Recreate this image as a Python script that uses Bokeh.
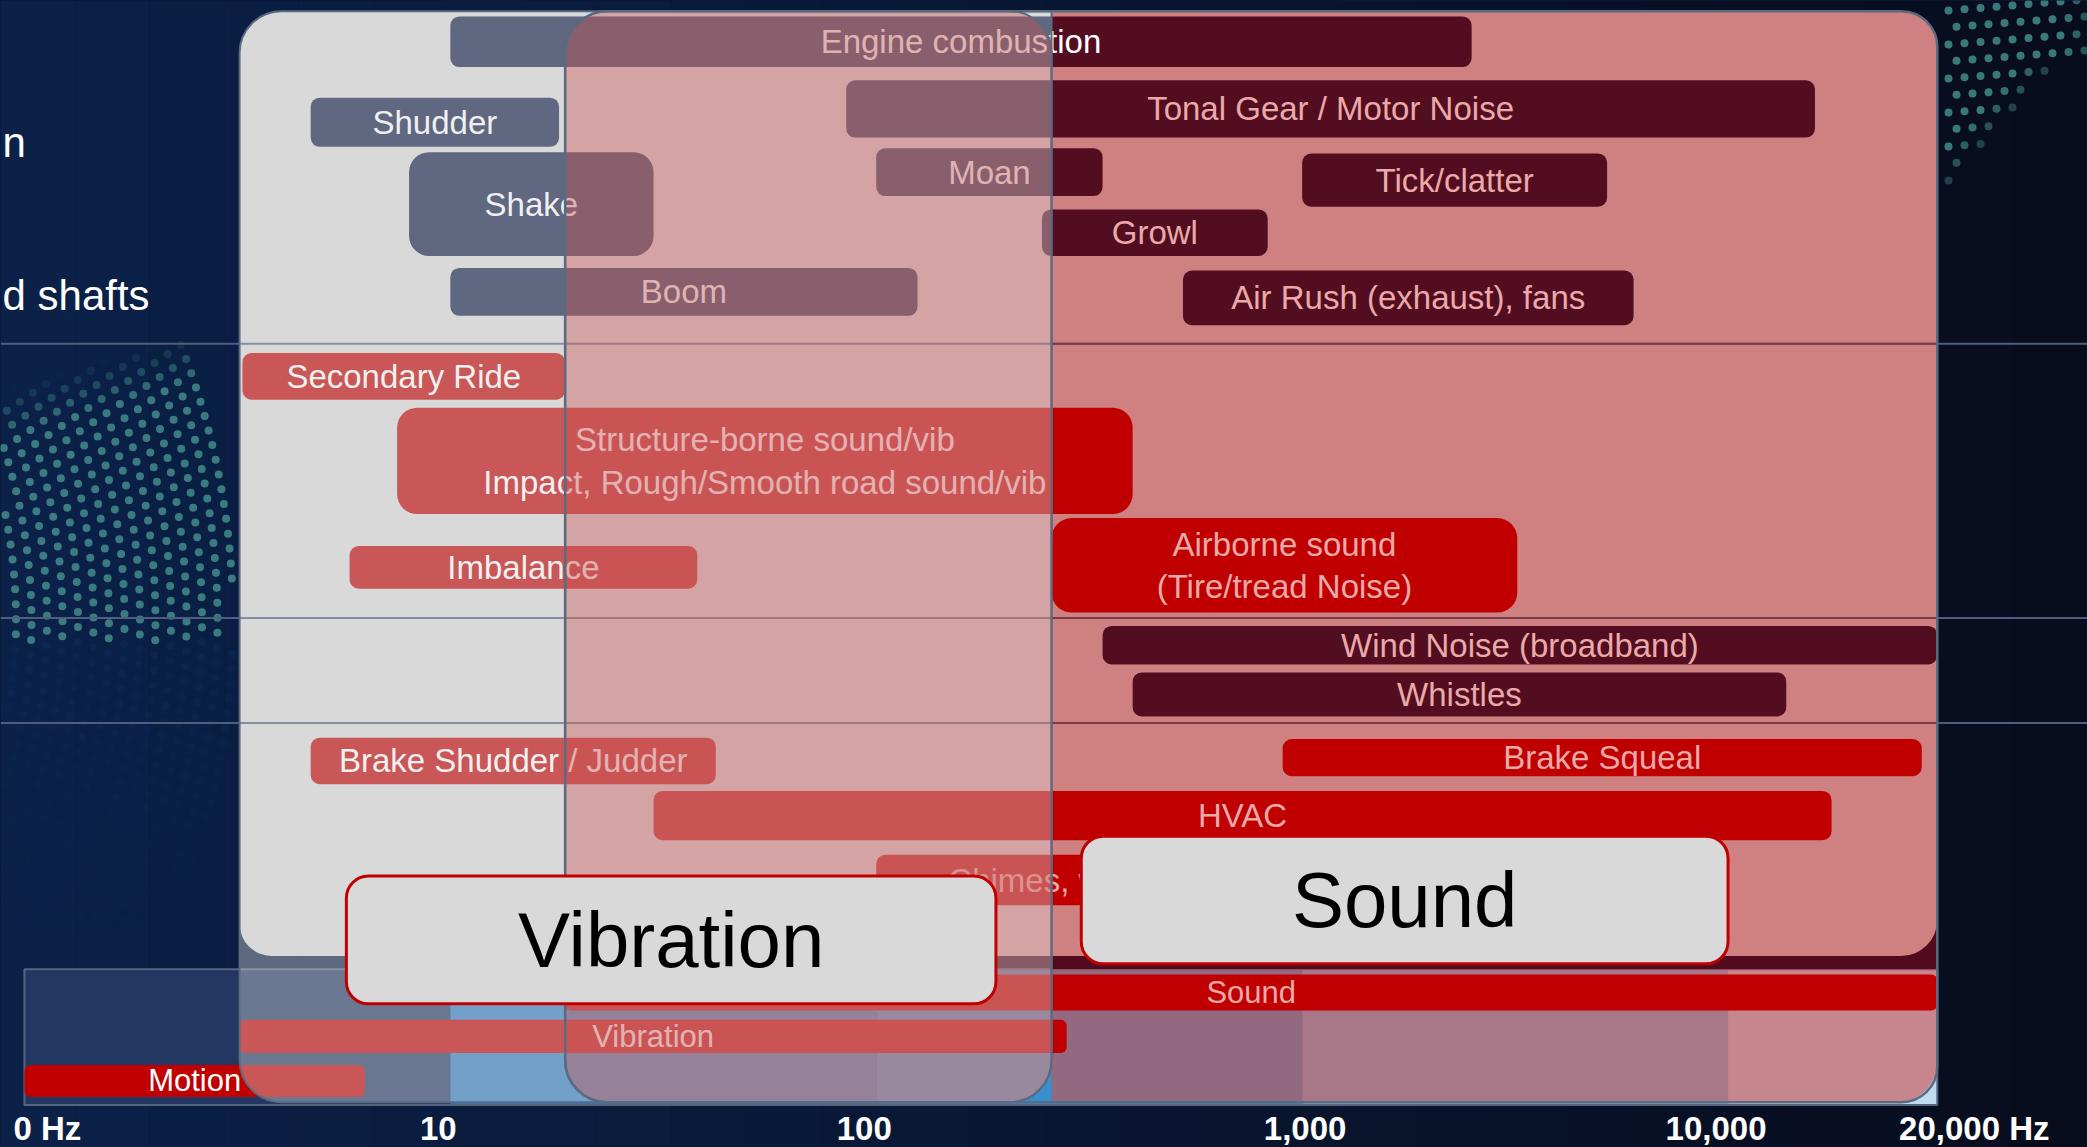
import numpy as np
from bokeh.plotting import figure
from bokeh.models import Range1d, ColumnDataSource, GlobalInlineStyleSheet
from bokeh.core.properties import value
from bokeh.embed import file_html
from bokeh.resources import INLINE

# ------------------------------------------------------------------ data
# NVH phenomena: frequency span (Hz) and vertical lane (top/bottom, lane units)
bar_labels = [
    "Engine combustion", "Tonal Gear / Motor Noise", "Shudder", "Shake", "Moan",
    "Tick/clatter", "Growl", "Boom", "Air Rush (exhaust), fans",
    "Secondary Ride",
    "Structure-borne sound/vib\nImpact, Rough/Smooth road sound/vib",
    "Airborne sound\n(Tire/tread Noise)", "Imbalance",
    "Wind Noise (broadband)", "Whistles",
    "Brake Shudder / Judder", "Brake Squeal", "HVAC", "Chimes, warnings",
]
bar_lo_hz = [10, 85, 4.7, 8, 100, 1000, 245, 10, 525,
             3.25, 7.5, 258, 5.8,
             340, 400,
             4.7, 900, 30, 100]
bar_hi_hz = [2500, 16000, 18, 30, 340, 5200, 830, 125, 6000,
             18.6, 400, 3200, 38,
             31000, 13700,
             42, 28500, 17500, 900]
bar_top = [12, 60, 73, 114, 111, 115, 157, 201, 203,
           265, 306, 389, 410,
           470, 505,
           554, 555, 594, 642]
bar_bottom = [50, 103, 110, 192, 147, 155, 192, 237, 244,
              300, 386, 460, 442,
              499, 538,
              589, 583, 631, 680]
bar_family = ["powertrain"] * 9 + ["road"] * 4 + ["wind"] * 2 + ["other"] * 4

# overall domains shown in the bottom strip
range_labels = ["Sound", "Vibration", "Motion"]
range_lo_hz = [18.6, 3.2, 1]
range_hi_hz = [31000, 280, 6.3]
range_top = [732, 766, 800]
range_bottom = [759, 791, 824]

vibration_panel_hz = (3.2, 258)
sound_panel_hz = (18.6, 31000)

band_edges_hz = [1, 10, 100, 1000, 10000, 31000]
band_colors = ["#223863", "#307abc", "#3790cd", "#72b9e3", "#c0daf0"]

row_separators = [258, 464, 543]

tick_hz = [1, 10, 100, 1000, 10000, 31000]
tick_labels = ["0 Hz", "10", "100", "1,000", "10,000", "20,000 Hz"]

side_labels = ["n", "d shafts"]
side_label_y = [107, 222]

box_labels = ["Vibration", "Sound"]
box_lo_hz = [5.7, 303]
box_hi_hz = [191, 10000]
box_top = [658, 628]
box_bottom = [754, 724]

# ------------------------------------------------------------------ layout / style
W, H = 2087, 1147
X_VIEW = (0.8786, 69823)
Y_VIEW = 862
PANEL_TOP, PANEL_OPAQUE_BOTTOM, PANEL_BOTTOM = 8, 718, 828
BAND_TOP, BAND_BOTTOM = 728, 830
FONT = value("Liberation Sans")
PINK_TXT = "#eba9a9"
EDGE = "#5a6a80"

vib_color = {"powertrain": "#0e1d45", "wind": "#0e1d45", "road": "#c00000", "other": "#c00000"}
snd_color = {"powertrain": "#520e20", "wind": "#520e20", "road": "#c00000", "other": "#c00000"}

def px_x(xf):
    """screen px (decoration only) -> data x"""
    return X_VIEW[0] * (X_VIEW[1] / X_VIEW[0]) ** (np.asarray(xf) / W)

def px_y(yf):
    return np.asarray(yf) * Y_VIEW / H

p = figure(width=W, height=H, x_axis_type="log",
           x_range=Range1d(*X_VIEW), y_range=Range1d(Y_VIEW, 0),
           x_axis_location=None, y_axis_location=None,
           toolbar_location=None, output_backend="svg", min_border=0,
           outline_line_color=None,
           background_fill_color="#0a1838", border_fill_color="#0a1838")
p.grid.visible = False
p.stylesheets = [GlobalInlineStyleSheet(
    css="html,body{margin:0 !important;padding:0;background:#0a1838;overflow:hidden;}")]

# background gradient (decorative)
n = 28
xs = np.geomspace(X_VIEW[0], X_VIEW[1], n + 1)
c0 = np.array([11, 33, 72]); c1 = np.array([8, 13, 30])
cols = ["#%02x%02x%02x" % tuple((c0 + (c1 - c0) * t).astype(int)) for t in np.linspace(0, 1, n)]
p.quad(left=xs[:-1], right=xs[1:], top=0, bottom=Y_VIEW, fill_color=cols, line_color=None)

# decorative dot patterns
dx, dy, da, dc = [], [], [], []
cx, cy = -520.0, 620.0
for r in np.arange(520, 760, 15.5):
    th = np.arange(-np.pi / 2, np.pi / 2, 15.0 / r)
    x = cx + r * np.cos(th); y = cy + r * np.sin(th)
    top_edge = 390 - 0.30 * x
    keep = (x > 3) & (x < 232) & (y > top_edge) & (y < 930)
    for xi, yi in zip(x[keep], y[keep]):
        if yi < 640:
            a = min(1.0, (yi - (390 - 0.30 * xi)) / 50)
            dx.append(xi); dy.append(yi); da.append(0.85 * a); dc.append("#438c8c")
        else:
            a = max(0.0, 1 - (yi - 640) / 290)
            dx.append(xi); dy.append(yi); da.append(0.6 * a); dc.append("#0c2a55")
for row, yrow in enumerate(np.arange(10, 200, 17)):
    xend = 2095 if yrow < 62 else 2062 - 0.95 * (yrow - 62)
    for xi in np.arange(1948 + (row % 2) * 8, xend, 16):
        yi = yrow - 0.08 * (xi - 1948)
        fade = min(1.0, (xend - xi) / 60 + 0.45)
        dx.append(xi); dy.append(yi); da.append(0.85 * fade); dc.append("#448c8c")
p.scatter(x=px_x(dx), y=px_y(dy), size=8, fill_color=dc, fill_alpha=da, line_color=None)

# frequency band strip
p.quad(left=band_edges_hz[:-1], right=band_edges_hz[1:], top=BAND_TOP, bottom=BAND_BOTTOM,
       fill_color=band_colors, line_color=None)
p.quad(left=[band_edges_hz[0]], right=[band_edges_hz[-1]], top=BAND_TOP, bottom=BAND_BOTTOM,
       fill_color=None, line_color="#56657e", line_width=2)

VLO, VHI = vibration_panel_hz
SLO, SHI = sound_panel_hz

# opaque upper panels
p.quad(left=[VLO], right=[VHI], top=PANEL_TOP, bottom=PANEL_OPAQUE_BOTTOM,
       fill_color="#d9d9d9", line_color=None, border_radius=(42, 0, 0, 32))
p.quad(left=[VHI], right=[SHI], top=690, bottom=BAND_TOP,
       fill_color="#520b1e", line_color=None)
p.quad(left=[VHI], right=[SHI], top=PANEL_TOP, bottom=PANEL_OPAQUE_BOTTOM,
       fill_color="#cf8080", line_color=None, border_radius=(0, 36, 36, 0))

# row separators
p.segment(x0=X_VIEW[0], x1=X_VIEW[1], y0=row_separators, y1=row_separators,
          line_color="#4e5e7c", line_width=2)
p.segment(x0=VHI, x1=SHI, y0=row_separators, y1=row_separators,
          line_color="#7c3a48", line_width=2)

# sound panel over the band strip
p.quad(left=[VHI], right=[SHI], top=BAND_TOP, bottom=PANEL_BOTTOM,
       fill_color="#cc5050", fill_alpha=0.62, line_color=None, border_radius=(0, 0, 40, 0))

# phenomenon bars, split at the vibration/sound boundary
groups = {}
def add(color, corners, lo, hi, top, bottom):
    g = groups.setdefault((color, corners), dict(left=[], right=[], top=[], bottom=[]))
    g["left"].append(lo); g["right"].append(hi); g["top"].append(top); g["bottom"].append(bottom)

for lo, hi, t, b, fam in zip(bar_lo_hz, bar_hi_hz, bar_top, bar_bottom, bar_family):
    r = 20 if (b - t) > 60 else 9
    vc, sc = vib_color[fam], snd_color[fam]
    if hi <= VHI:
        add(vc, (r, r, r, r), lo, hi, t, b)
    elif lo >= VHI or vc == sc:
        add(sc if lo >= VHI else vc, (r, r, r, r), lo, hi, t, b)
    else:
        add(vc, (r, 0, 0, r), lo, VHI, t, b)
        add(sc, (0, r, r, 0), VHI, hi, t, b)

for (color, corners), d in groups.items():
    p.quad(source=ColumnDataSource(d), left="left", right="right", top="top", bottom="bottom",
           fill_color=color, line_color=None, border_radius=corners)

p.quad(left=range_lo_hz, right=range_hi_hz, top=range_top, bottom=range_bottom,
       fill_color="#c00000", line_color=None, border_radius=6)

# labels on bars
lab_x = [np.sqrt(a * b) for a, b in zip(bar_lo_hz, bar_hi_hz)]
lab_y = [(a + b) / 2 for a, b in zip(bar_top, bar_bottom)]
lab_c = ["white" if x < VHI else PINK_TXT for x in lab_x]
p.text(x=lab_x, y=lab_y, text=bar_labels, text_color=lab_c, text_font=FONT,
       text_font_size="33px", text_align="center", text_baseline="middle",
       text_line_height=1.15)

rx = [np.sqrt(a * b) for a, b in zip(range_lo_hz, range_hi_hz)]
ry = [(a + b) / 2 for a, b in zip(range_top, range_bottom)]
rc = ["white" if x < VHI else PINK_TXT for x in rx]
p.text(x=rx, y=ry, text=range_labels, text_color=rc, text_font=FONT,
       text_font_size="31px", text_align="center", text_baseline="middle")

# translucent vibration panel and overlap
p.quad(left=[VLO], right=[VHI], top=PANEL_TOP, bottom=PANEL_BOTTOM,
       fill_color="#d9d9d9", fill_alpha=0.4, line_color=EDGE, line_width=2,
       border_radius=(42, 0, 42, 42))
p.quad(left=[SLO], right=[VHI], top=PANEL_TOP, bottom=PANEL_BOTTOM,
       fill_color="#cc5050", fill_alpha=0.39, line_color=EDGE, line_width=2,
       border_radius=42)
p.quad(left=[SLO], right=[SHI], top=PANEL_TOP, bottom=PANEL_BOTTOM,
       fill_color=None, line_color=EDGE, line_width=2.5, border_radius=(42, 36, 36, 42))

# big category boxes
p.quad(left=box_lo_hz, right=box_hi_hz, top=box_top, bottom=box_bottom,
       fill_color="#d9d9d9", line_color="#c00000", line_width=3, border_radius=22)
p.text(x=[np.sqrt(a * b) for a, b in zip(box_lo_hz, box_hi_hz)],
       y=[(a + b) / 2 for a, b in zip(box_top, box_bottom)],
       text=box_labels, text_color="black", text_font=FONT, text_font_size="78px",
       text_align="center", text_baseline="middle")

# frequency axis labels
p.text(x=tick_hz, y=[848] * len(tick_hz), text=tick_labels, text_color="white",
       text_font=FONT, text_font_size="33px", text_font_style="bold",
       text_align="center", text_baseline="middle",
       x_offset=[23, -12, -12, 3, -12, 37])

# row labels at far left (only their right ends are in view)
p.text(x=[X_VIEW[0]] * len(side_labels), y=side_label_y, text=side_labels, text_color="white",
       text_font=FONT, text_font_size="42px", text_align="left", text_baseline="middle",
       x_offset=[2, 2])

open("out.html", "w").write(file_html(p, INLINE))
